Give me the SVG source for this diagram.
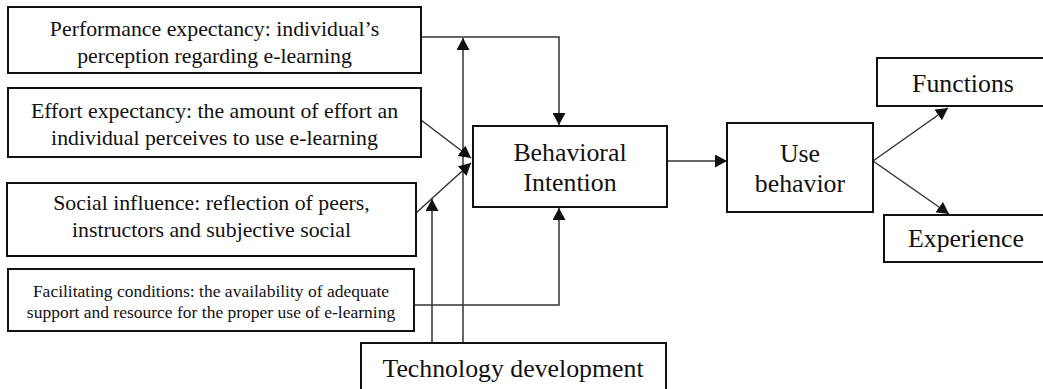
<svg xmlns="http://www.w3.org/2000/svg" width="1043" height="389" viewBox="0 0 1043 389">
<defs>
<style>
.box{fill:#fff;stroke:#111;stroke-width:2}
.t{font-family:'Liberation Serif','Times New Roman',Times,'DejaVu Serif',serif;fill:#111;text-anchor:middle}
.s22{font-size:21.8px}
.s17{font-size:17.5px}
.s26{font-size:25.8px}
.c{fill:none;stroke:#333;stroke-width:1.5}
</style>
<marker id="ah" markerUnits="userSpaceOnUse" markerWidth="13" markerHeight="13" refX="12" refY="6.5" orient="auto">
<path d="M0,0 L12,6.5 L0,13 z" fill="#111"/>
</marker>
</defs>
<rect width="1043" height="389" fill="#fff"/>
<g id="connectors">
<polyline class="c" points="421,37 559,37 559,125" marker-end="url(#ah)"/>
<line class="c" x1="463" y1="343" x2="463" y2="38" marker-end="url(#ah)"/>
<line class="c" x1="432" y1="343" x2="432" y2="199" marker-end="url(#ah)"/>
<line class="c" x1="421" y1="120" x2="471" y2="158" marker-end="url(#ah)"/>
<line class="c" x1="416" y1="213" x2="471" y2="163" marker-end="url(#ah)"/>
<polyline class="c" points="414,305 559,305 559,208" marker-end="url(#ah)"/>
<line class="c" x1="667" y1="161" x2="727" y2="161" marker-end="url(#ah)"/>
<line class="c" x1="873" y1="161" x2="948" y2="108" marker-end="url(#ah)"/>
<line class="c" x1="873" y1="161" x2="949" y2="214" marker-end="url(#ah)"/>
</g>
<g id="performance">
<rect class="box" x="8" y="7" width="413" height="66"/>
<text class="t s22" font-family="Liberation Serif, DejaVu Serif, serif" x="214.5" y="36">Performance expectancy: individual’s</text>
<text class="t s22" font-family="Liberation Serif, DejaVu Serif, serif" x="214.5" y="63">perception regarding e-learning</text>
</g>
<g id="effort">
<rect class="box" x="8" y="88" width="413" height="69"/>
<text class="t s22" x="214.5" y="118">Effort expectancy: the amount of effort an</text>
<text class="t s22" x="214.5" y="145">individual perceives to use e-learning</text>
</g>
<g id="social">
<rect class="box" x="7" y="183" width="409" height="73"/>
<text class="t s22" x="211.5" y="210">Social influence: reflection of peers,</text>
<text class="t s22" x="211.5" y="237">instructors and subjective social</text>
</g>
<g id="facilitating">
<rect class="box" x="8" y="269" width="406" height="62"/>
<text class="t s17" x="211" y="297">Facilitating conditions: the availability of adequate</text>
<text class="t s17" x="211" y="318">support and resource for the proper use of e-learning</text>
</g>
<g id="technology">
<rect class="box" x="361" y="343" width="305" height="60"/>
<text class="t s26" x="513" y="377">Technology development</text>
</g>
<g id="behavioral">
<rect class="box" x="473" y="126" width="194" height="81"/>
<text class="t s26" x="570" y="161">Behavioral</text>
<text class="t s26" x="570" y="191">Intention</text>
</g>
<g id="use">
<rect class="box" x="727" y="123" width="146" height="89"/>
<text class="t s26" x="800" y="162">Use</text>
<text class="t s26" x="800" y="192">behavior</text>
</g>
<g id="functions">
<rect class="box" x="877" y="58" width="170" height="48"/>
<text class="t s26" x="963" y="92">Functions</text>
</g>
<g id="experience">
<rect class="box" x="884" y="215" width="165" height="47"/>
<text class="t s26" x="966" y="247">Experience</text>
</g>
</svg>
